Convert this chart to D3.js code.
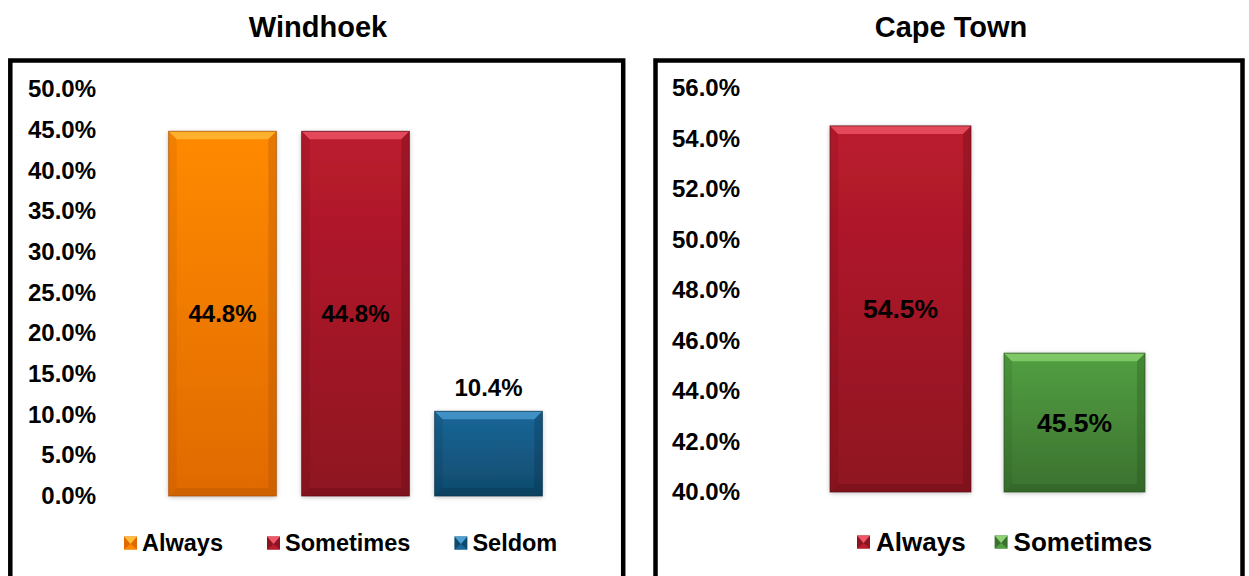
<!DOCTYPE html>
<html>
<head>
<meta charset="utf-8">
<script src="https://cdn.jsdelivr.net/npm/d3@7/dist/d3.min.js"></script>
<style>
  html, body { margin: 0; padding: 0; background: #ffffff; }
  svg { display: block; }
  text { font-family: "Liberation Sans", Arial, sans-serif; font-weight: bold; fill: #000; }
</style>
</head>
<body>
<svg id="chart" width="1249" height="576"></svg>
<script>
// Survey responses by city (percent)
const windhoekCategories = ["Always", "Sometimes", "Seldom"];
const windhoekValues = [44.8, 44.8, 10.4];
const windhoekTicks = [0, 5, 10, 15, 20, 25, 30, 35, 40, 45, 50];

const capeCategories = ["Always", "Sometimes"];
const capeValues = [54.5, 45.5];
const capeTicks = [40, 42, 44, 46, 48, 50, 52, 54, 56];

// Fill palettes: [top, bottom, bevel highlight, dark edge]
const palette = {
  orange: ["#ff8a00", "#e06a00", "#ffbe3c", "#a85000"],
  red:    ["#bb1b2e", "#8e1321", "#f0586a", "#5e0a14"],
  blue:   ["#1b6799", "#0f4a6c", "#4e9fd4", "#08304a"],
  green:  ["#52a042", "#3b712f", "#8ed474", "#24501c"]
};
const windhoekColors = ["orange", "red", "blue"];
const capeColors = ["red", "green"];

const svg = d3.select("#chart");
const defs = svg.append("defs");

Object.entries(palette).forEach(([name, c]) => {
  const g = defs.append("linearGradient").attr("id", "grad-" + name)
    .attr("x1", 0).attr("y1", 0).attr("x2", 0).attr("y2", 1);
  g.append("stop").attr("offset", "0%").attr("stop-color", c[0]);
  g.append("stop").attr("offset", "100%").attr("stop-color", c[1]);
});

const shadow = defs.append("filter").attr("id", "soft-shadow")
  .attr("x", "-20%").attr("y", "-20%").attr("width", "140%").attr("height", "140%");
shadow.append("feDropShadow").attr("dx", 0).attr("dy", 1)
  .attr("stdDeviation", 2.5).attr("flood-color", "#000").attr("flood-opacity", 0.28);

// Rectangle with bevelled edges
function bevelBar(g, x, y, w, h, colorName, bevel) {
  const c = palette[colorName];
  const b = Math.min(bevel, w / 2, h / 2);
  const grp = g.append("g");
  grp.append("rect").attr("x", x).attr("y", y).attr("width", w).attr("height", h)
    .attr("fill", "url(#grad-" + colorName + ")").attr("filter", "url(#soft-shadow)");
  // top highlight
  grp.append("path")
    .attr("d", `M${x},${y}L${x + w},${y}L${x + w - b},${y + b}L${x + b},${y + b}Z`)
    .attr("fill", c[2]).attr("opacity", 0.75);
  // left edge
  grp.append("path")
    .attr("d", `M${x},${y}L${x + b},${y + b}L${x + b},${y + h - b}L${x},${y + h}Z`)
    .attr("fill", c[3]).attr("opacity", 0.15);
  // right edge
  grp.append("path")
    .attr("d", `M${x + w},${y}L${x + w - b},${y + b}L${x + w - b},${y + h - b}L${x + w},${y + h}Z`)
    .attr("fill", c[3]).attr("opacity", 0.3);
  // bottom edge
  grp.append("path")
    .attr("d", `M${x},${y + h}L${x + b},${y + h - b}L${x + w - b},${y + h - b}L${x + w},${y + h}Z`)
    .attr("fill", c[3]).attr("opacity", 0.3);
  grp.append("rect").attr("x", x).attr("y", y).attr("width", w).attr("height", h)
    .attr("fill", "none").attr("stroke", c[3]).attr("stroke-width", 1).attr("opacity", 0.7);
}

function drawPanel(opts) {
  const g = svg.append("g");

  // frame
  g.append("rect")
    .attr("x", opts.frame[0]).attr("y", opts.frame[1])
    .attr("width", opts.frame[2] - opts.frame[0]).attr("height", 600 - opts.frame[1])
    .attr("fill", "none").attr("stroke", "#000").attr("stroke-width", 4.5);

  // title
  g.append("text").attr("x", opts.titleX).attr("y", 37)
    .attr("text-anchor", "middle").style("font-size", "29px").text(opts.title);

  const y = d3.scaleLinear().domain(opts.domain).range(opts.yRange);
  const x = d3.scaleBand().domain(opts.categories).range(opts.xRange)
    .paddingInner(0.19).paddingOuter(0.095);

  // value axis
  const axis = d3.axisLeft(y).tickValues(opts.ticks).tickSize(0).tickPadding(0)
    .tickFormat(d => d.toFixed(1) + "%");
  const ax = g.append("g").attr("transform", `translate(${opts.axisX},0)`).call(axis);
  ax.select(".domain").remove();
  ax.selectAll("text").style("font-size", "24px")
    .style("font-family", '"Liberation Sans", Arial, sans-serif').style("font-weight", "bold")
    .attr("fill", "#000");

  // bars
  const base = y(opts.domain[0]);
  opts.categories.forEach((cat, i) => {
    const v = opts.values[i];
    const x0 = x(cat), w = x.bandwidth();
    const top = y(v);
    bevelBar(g, x0, top, w, base - top, opts.colors[i], 8);
  });

  // value labels: centred inside tall bars, above short ones
  opts.categories.forEach((cat, i) => {
    const v = opts.values[i];
    const top = y(v);
    const h = base - top;
    const cy = h > 90 ? (top + base) / 2 : top - 24;
    g.append("text").attr("x", x(cat) + x.bandwidth() / 2)
      .attr("y", cy + opts.labelSize * 0.36)
      .attr("text-anchor", "middle").style("font-size", opts.labelSize + "px")
      .text(v.toFixed(1) + "%");
  });

  // legend
  let lx = opts.legendX;
  const ly = opts.legendY;
  opts.categories.forEach((cat, i) => {
    const c = palette[opts.colors[i]];
    const s = 13;
    const mg = g.append("g");
    mg.append("rect").attr("x", lx).attr("y", ly - s / 2).attr("width", s).attr("height", s)
      .attr("fill", c[1]);
    mg.append("path")
      .attr("d", `M${lx},${ly - s / 2}L${lx + s},${ly - s / 2}L${lx + s / 2},${ly + 1}Z`)
      .attr("fill", c[2]);
    mg.append("path")
      .attr("d", `M${lx},${ly + s / 2}L${lx + s},${ly + s / 2}L${lx + s / 2},${ly + 1}Z`)
      .attr("fill", c[0]);
    const t = g.append("text").attr("x", lx + s + opts.legendPad)
      .attr("y", ly + opts.legendSize * 0.36)
      .style("font-size", opts.legendSize + "px").text(cat);
    lx += s + opts.legendPad + t.node().getComputedTextLength() + opts.legendGap;
  });
}

drawPanel({
  title: "Windhoek", titleX: 318,
  frame: [10.3, 60.5, 623.2],
  categories: windhoekCategories, values: windhoekValues, colors: windhoekColors,
  ticks: windhoekTicks, domain: [0, 50], yRange: [496, 89],
  xRange: [156, 555], axisX: 96, labelSize: 24,
  legendX: 124, legendY: 543, legendSize: 23.5, legendPad: 5, legendGap: 44
});

drawPanel({
  title: "Cape Town", titleX: 951,
  frame: [655.5, 60.5, 1242.5],
  categories: capeCategories, values: capeValues, colors: capeColors,
  ticks: capeTicks, domain: [40, 56], yRange: [492, 88],
  xRange: [813.5, 1161.5], axisX: 740, labelSize: 26.5,
  legendX: 857, legendY: 542, legendSize: 26, legendPad: 6, legendGap: 29
});
</script>
</body>
</html>
